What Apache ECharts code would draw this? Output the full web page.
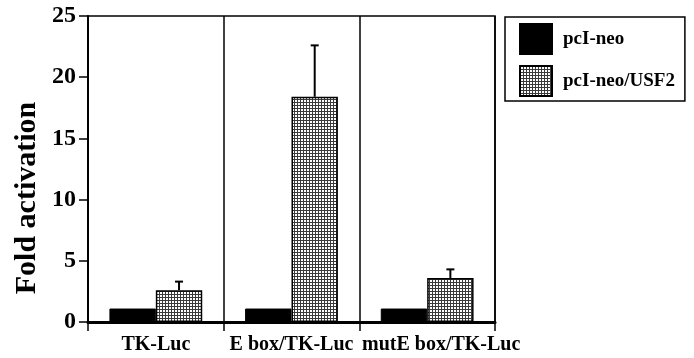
<!DOCTYPE html>
<html>
<head>
<meta charset="utf-8">
<script src="https://cdn.jsdelivr.net/npm/echarts@6/dist/echarts.min.js"></script>
<style>html,body{margin:0;padding:0;background:#fff;}#c{width:694px;height:358px;}</style>
</head>
<body>
<div id="c"></div>
<script>
const categories = ['TK-Luc', 'E box/TK-Luc', 'mutE box/TK-Luc'];
const seriesNames = ['pcI-neo', 'pcI-neo/USF2'];
const controlValues = [1.1, 1.1, 1.1];
const usf2Values = [2.6, 18.4, 3.6];
const usf2Errors = [0.7, 4.2, 0.7];
const yTicks = [0, 5, 10, 15, 20, 25];
const yTitle = 'Fold activation';

const FONT = 'Liberation Serif';

// stipple pattern
const pc = document.createElement('canvas');
pc.width = 3; pc.height = 3;
const px = pc.getContext('2d');
px.fillStyle = '#ffffff'; px.fillRect(0, 0, 3, 3);
px.fillStyle = '#3a3a3a';
px.fillRect(0, 0, 3, 1);
px.fillRect(0, 0, 1, 3);

const chart = echarts.init(document.getElementById('c'));
const errData = categories.map((c, i) => [i, usf2Values[i], usf2Values[i] + usf2Errors[i]]);

chart.setOption({
  animation: false,
  backgroundColor: '#fff',
  grid: { left: 88, right: 199, top: 16, bottom: 36, show: true, borderColor: '#000', borderWidth: 1.5, backgroundColor: 'transparent' },
  legend: {
    orient: 'vertical',
    left: 505, top: 17,
    data: seriesNames,
    icon: 'rect',
    itemWidth: 32, itemHeight: 30, itemGap: 10,
    padding: [6, 10, 4, 14],
    borderColor: '#000', borderWidth: 1.5,
    textStyle: { fontFamily: FONT, fontWeight: 'bold', fontSize: 19, color: '#000', padding: [0, 0, 0, 6] },
    selectedMode: false
  },
  graphic: [{
    type: 'text', x: 27, y: 198, rotation: Math.PI / 2,
    style: { text: yTitle, fontFamily: FONT, fontWeight: 'bold', fontSize: 30, fill: '#000', align: 'center', verticalAlign: 'middle' }
  }],
  xAxis: {
    type: 'category',
    data: categories,
    axisLine: { lineStyle: { color: '#000', width: 3 } },
    axisTick: { show: true, length: 9, lineStyle: { color: '#000', width: 1.5 } },
    splitLine: { show: true, interval: 0, lineStyle: { color: '#000', width: 1.5 } },
    axisLabel: { interval: 0, margin: 13, fontFamily: FONT, fontWeight: 'bold', fontSize: 20, color: '#000',
      formatter: (v, i) => i === 2 ? '{m|' + v + '}' : v,
      rich: { m: { fontFamily: FONT, fontWeight: 'bold', fontSize: 20, color: '#000', padding: [0, 0, 0, 28] } }
    }
  },
  yAxis: {
    type: 'value', min: 0, max: 25, interval: 5,
    axisLine: { show: true, lineStyle: { color: '#000', width: 2 } },
    axisTick: { show: true, length: 9, lineStyle: { color: '#000', width: 1.5 } },
    splitLine: { show: false },
    axisLabel: { margin: 12, fontFamily: FONT, fontWeight: 'bold', fontSize: 24, color: '#000',
      formatter: v => yTicks.includes(v) ? String(v) : '' }
  },
  series: [
    {
      name: seriesNames[0], type: 'bar', data: controlValues,
      barGap: '0%', barCategoryGap: '31.6%',
      itemStyle: { color: '#000', borderColor: '#000', borderWidth: 1 }
    },
    {
      name: seriesNames[1], type: 'bar', data: usf2Values,
      barGap: '0%', barCategoryGap: '31.6%',
      itemStyle: { color: { image: pc, repeat: 'repeat' }, borderColor: '#000', borderWidth: 1.5 }
    },
    {
      type: 'custom', name: 'err', data: errData, z: 5,
      renderItem: function (params, api) {
        const i = api.value(0);
        const b = api.coord([i, api.value(1)]);
        const t = api.coord([i, api.value(2)]);
        const bw = api.size([1, 0])[0];
        const x = b[0] + bw * 0.171;
        return {
          type: 'group',
          children: [
            { type: 'line', shape: { x1: x, y1: b[1], x2: x, y2: t[1] }, style: { stroke: '#000', lineWidth: 2 } },
            { type: 'line', shape: { x1: x - 4, y1: t[1], x2: x + 4, y2: t[1] }, style: { stroke: '#000', lineWidth: 2 } }
          ]
        };
      }
    }
  ]
});
</script>
</body>
</html>
